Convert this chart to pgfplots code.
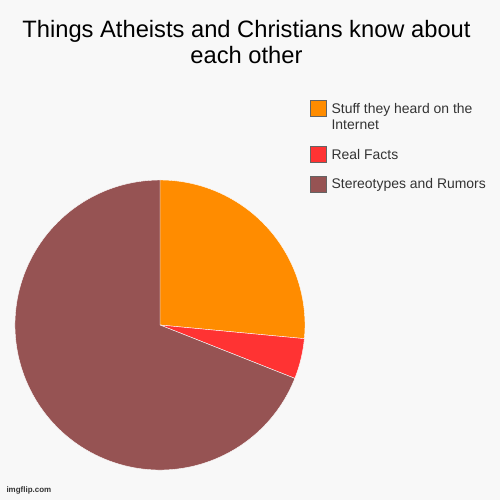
\documentclass[border=0pt]{standalone}
\usepackage{pgfplots}
\pgfplotsset{compat=1.18}
\usepackage{pgfplotstable}
\usepackage{fontspec}
\setmainfont{Liberation Sans}

\definecolor{bg}{RGB}{248,248,248}
\definecolor{pieorange}{RGB}{255,140,0}
\definecolor{piered}{RGB}{255,51,51}
\definecolor{piebrown}{RGB}{150,83,83}
\definecolor{legborder}{RGB}{100,100,100}
\definecolor{txt}{RGB}{51,51,51}

% share of each slice, in percent (clockwise from 12 o'clock)
\pgfplotstableread[col sep=comma]{
label,value
Internet,26.5
Facts,4.5
Stereotypes,69.0
}\piedata

\begin{document}
\begin{tikzpicture}
\pgfplotstablegetelem{0}{value}\of\piedata \let\vA\pgfplotsretval
\pgfplotstablegetelem{1}{value}\of\piedata \let\vB\pgfplotsretval
\pgfplotstablegetelem{2}{value}\of\piedata \let\vC\pgfplotsretval
\pgfmathsetmacro\aS{90}
\pgfmathsetmacro\aA{\aS-3.6*\vA}
\pgfmathsetmacro\aB{\aA-3.6*\vB}
\pgfmathsetmacro\aC{\aB-3.6*\vC}

\fill[bg] (0bp,0bp) rectangle (500bp,500bp);
\node[font=\fontsize{23.8}{26}\selectfont, text=black, anchor=base, inner sep=0pt]
  at (246.5bp,462.3bp) {Things Atheists and Christians know about};
\node[font=\fontsize{23.8}{26}\selectfont, text=black, anchor=base, inner sep=0pt]
  at (246.5bp,436.7bp) {each other};
\node[font=\bfseries\fontsize{8}{9}\selectfont, text=black!80, anchor=south west]
  at (3bp,2bp) {imgflip.com};

\begin{axis}[
  at={(15bp,30bp)}, anchor=south west,
  width=290bp, height=290bp, scale only axis,
  xmin=-1, xmax=1, ymin=-1, ymax=1,
  hide axis, clip=false,
  legend cell align={left},
  legend style={
    at={(axis description cs:1.0155,1.2759)}, anchor=north west,
    draw=none, fill=none, inner sep=0pt,
    font=\fontsize{14}{16}\selectfont, text=txt,
    row sep=0pt, column sep=5.5bp,
    cells={anchor=base west}, nodes={inner sep=0pt},
  },
  legend image code/.code={
    \filldraw[#1] (0bp,-3bp) rectangle (16bp,13bp);
  },
]
\addlegendimage{draw=legborder, fill=pieorange}
\addlegendentry{\makebox[0pt][l]{\raisebox{-16bp}{Internet}}Stuff they heard on the}
\addlegendimage{draw=legborder, fill=piered}
\addlegendentry{\rule{0pt}{43bp}Real Facts}
\addlegendimage{draw=legborder, fill=piebrown}
\addlegendentry{\rule{0pt}{26bp}Stereotypes and Rumors}

\filldraw[fill=pieorange, draw=white, line width=0.4pt]
  (axis cs:0,0) -- (axis cs:{cos(\aS)},{sin(\aS)})
  arc[start angle=\aS, end angle=\aA, radius=145bp] -- cycle;
\filldraw[fill=piered, draw=white, line width=0.4pt]
  (axis cs:0,0) -- (axis cs:{cos(\aA)},{sin(\aA)})
  arc[start angle=\aA, end angle=\aB, radius=145bp] -- cycle;
\filldraw[fill=piebrown, draw=white, line width=0.4pt]
  (axis cs:0,0) -- (axis cs:{cos(\aB)},{sin(\aB)})
  arc[start angle=\aB, end angle=\aC, radius=145bp] -- cycle;
\end{axis}
\pgfresetboundingbox
\path[use as bounding box] (0bp,0bp) rectangle (500bp,500bp);
\end{tikzpicture}
\end{document}
